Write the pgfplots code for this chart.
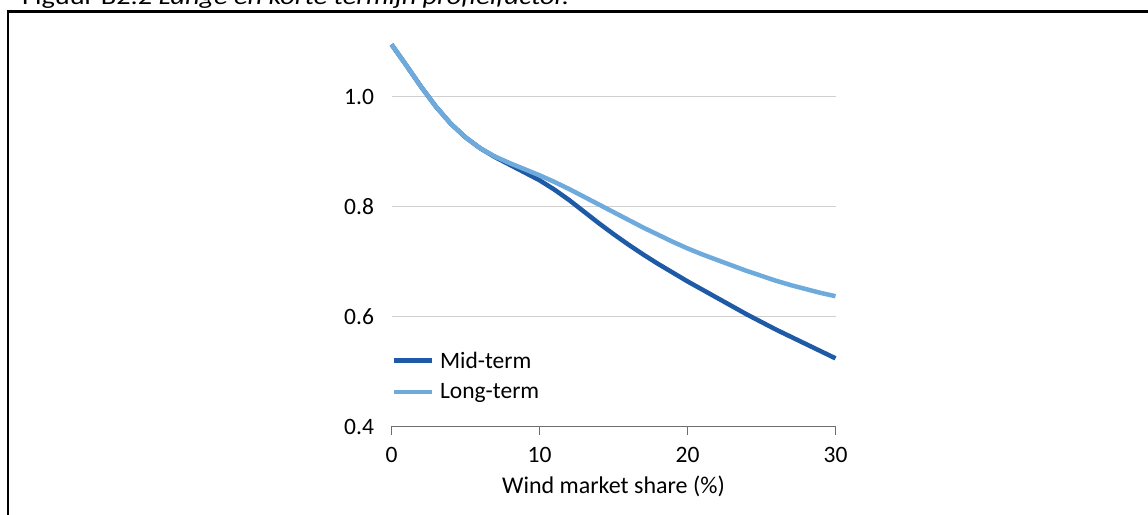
\documentclass[border=0pt]{standalone}
\usepackage{fontspec}
\setmainfont{Carlito}
\usepackage{graphicx}
\usepackage{pgfplots}
\pgfplotsset{compat=1.18}

\definecolor{midterm}{RGB}{30,90,165}
\definecolor{longterm}{RGB}{110,170,220}
\definecolor{gridgray}{RGB}{208,208,208}
\definecolor{axisgray}{RGB}{110,110,110}

\begin{document}
\begin{tikzpicture}
\useasboundingbox (0,0) rectangle (1148bp,515bp);
% frame of the figure box (only left and top visible)
\draw[line width=2.4bp] (8bp,0bp) -- (8bp,503.5bp) -- (1150bp,503.5bp);
% caption, mostly cut off by the page edge
\node[anchor=base west, inner sep=0pt, font=\fontsize{23bp}{27bp}\selectfont]
  at (22bp,510.5bp) {\resizebox{547bp}{\height}{Figuur B2.2 \textit{Lange en korte termijn profielfactor.}}};

\begin{axis}[
  scale only axis,
  at={(391.5bp,88.5bp)}, anchor=south west,
  width=444bp, height=384.8bp,
  xmin=0, xmax=30, ymin=0.4, ymax=1.1,
  clip=false,
  axis lines*=left,
  y axis line style={draw=none},
  x axis line style={axisgray, line width=1.3bp},
  xtick={0,10,20,30},
  ytick={0.4,0.6,0.8,1.0},
  ymajorgrids,
  grid style={gridgray, line width=1.5bp},
  ytick style={draw=none},
  xtick style={axisgray, line width=1.3bp},
  tick align=outside,
  major tick length=8bp,
  /pgf/number format/assume math mode=true,
  /pgf/number format/fixed,
  /pgf/number format/fixed zerofill,
  /pgf/number format/precision=1,
  xticklabel={\pgfmathprintnumber[fixed,precision=0]{\tick}},
  tick label style={font=\fontsize{23.5bp}{27bp}\selectfont},
  xticklabel style={yshift=-9bp},
  yticklabel style={xshift=-6bp},
  label style={font=\fontsize{24bp}{28bp}\selectfont},
  xlabel style={yshift=-7bp},
  xlabel={Wind market share (\%)},
  legend style={at={(-0.007,0.205)}, anchor=north west, draw=none, fill=none,
    font=\fontsize{23.5bp}{27bp}\selectfont, row sep=10bp, column sep=4bp},
  legend cell align=left,
  legend image code/.code={\draw[#1] (0bp,0bp) -- (38bp,0bp);},
]
\addplot[midterm, line width=4.5bp] coordinates {
  (0,1.095) (1,1.057) (2,1.018) (3,0.982) (4,0.951) (5,0.926) (6,0.906) (7,0.890)
  (8,0.876) (9,0.862) (10,0.848) (11,0.831) (12,0.812) (13,0.791) (14,0.770)
  (15,0.750) (16,0.731) (17,0.713) (18,0.696) (19,0.680) (20,0.664) (21,0.649)
  (22,0.634) (23,0.619) (24,0.604) (25,0.590) (26,0.576) (27,0.563) (28,0.550)
  (29,0.537) (30,0.524)
};
\addlegendentry{Mid-term}
\addplot[longterm, line width=4.5bp] coordinates {
  (0,1.095) (1,1.057) (2,1.018) (3,0.982) (4,0.951) (5,0.926) (6,0.906) (7,0.891)
  (8,0.879) (9,0.868) (10,0.857) (11,0.845) (12,0.832) (13,0.818) (14,0.804)
  (15,0.790) (16,0.776) (17,0.762) (18,0.749) (19,0.736) (20,0.724) (21,0.713)
  (22,0.703) (23,0.693) (24,0.683) (25,0.674) (26,0.665) (27,0.657) (28,0.650)
  (29,0.643) (30,0.637)
};
\addlegendentry{Long-term}
\end{axis}
\end{tikzpicture}
\end{document}
